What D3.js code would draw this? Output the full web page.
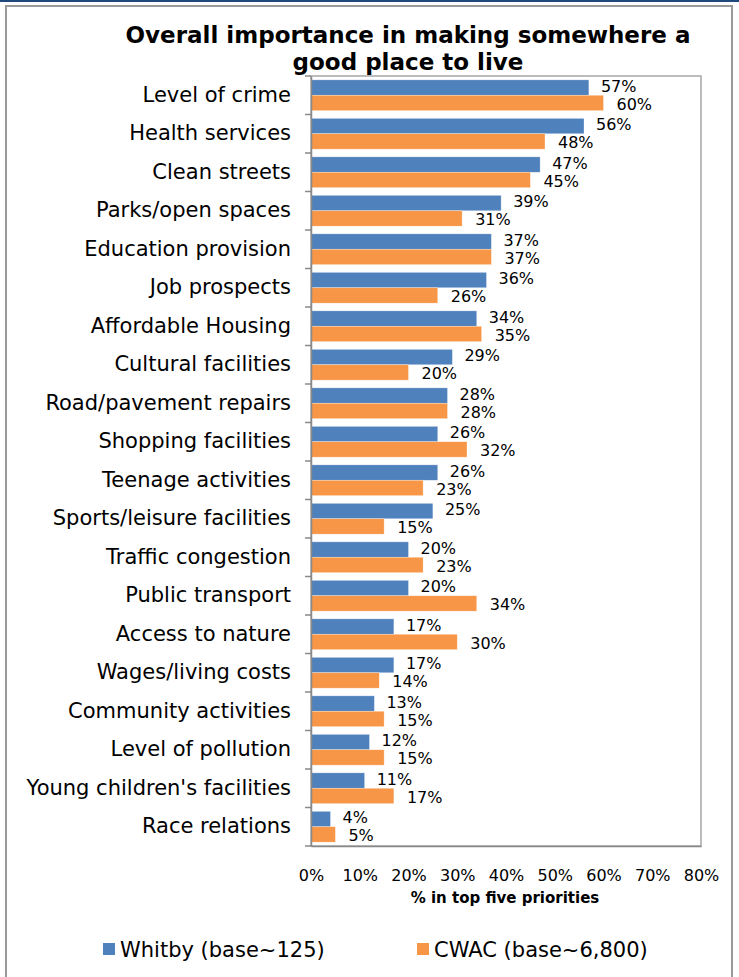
<!DOCTYPE html>
<html><head><meta charset="utf-8">
<script src="https://cdn.jsdelivr.net/npm/d3@7"></script>
<style>body{margin:0;background:#fff}svg{display:block}</style>
</head><body>
<script>
const categories = ["Level of crime","Health services","Clean streets","Parks/open spaces","Education provision","Job prospects","Affordable Housing","Cultural facilities","Road/pavement repairs","Shopping facilities","Teenage activities","Sports/leisure facilities","Traffic congestion","Public transport","Access to nature","Wages/living costs","Community activities","Level of pollution","Young children's facilities","Race relations"];
const whitby = [57,56,47,39,37,36,34,29,28,26,26,25,20,20,17,17,13,12,11,4];
const cwac =   [60,48,45,31,37,26,35,20,28,32,23,15,23,34,30,14,15,15,17,5];
const seriesNames = ["Whitby (base~125)","CWAC (base~6,800)"];
const tickValues = [0,10,20,30,40,50,60,70,80];
const titleLines = ["Overall importance in making somewhere a","good place to live"];
const axisTitle = "% in top five priorities";

(function(){
const W = 739, H = 977;
const colors = ["#4F81BD","#F79646"];
const svg = d3.select("body").append("svg").attr("width",W).attr("height",H);
const font = "DejaVu Sans, Verdana, sans-serif";

// frame
svg.append("rect").attr("x",0).attr("y",0).attr("width",W).attr("height",2).attr("fill","#1F497D");
svg.append("rect").attr("x",6).attr("y",6).attr("width",726).attr("height",H).attr("fill","none").attr("stroke","#9a9a9a").attr("stroke-width",2);

const pL = 311, pR = 701, pT = 76, pB = 846;
const x = d3.scaleLinear().domain([0,80]).range([pL,pR]);
const y = d3.scaleBand().domain(categories).range([pT,pB]).paddingInner(0.2).paddingOuter(0.1);
const sub = d3.scaleBand().domain([0,1]).range([0,y.bandwidth()]);

// title
svg.append("g").selectAll("text").data(titleLines).join("text")
  .attr("x",408).attr("y",(d,i)=>43+i*27).attr("text-anchor","middle")
  .attr("font-family",font).attr("font-weight","bold").attr("font-size",23).attr("fill","#000").text(d=>d);

// plot box
svg.append("rect").attr("x",pL).attr("y",pT).attr("width",pR-pL).attr("height",pB-pT)
  .attr("fill","none").attr("stroke","#a6a6a6").attr("stroke-width",1.5);

// bars
const series = [whitby, cwac];
series.forEach((vals,si)=>{
  const g = svg.append("g");
  g.selectAll("rect").data(categories).join("rect")
    .attr("x",x(0)).attr("y",(c)=>y(c)+sub(si))
    .attr("width",(c,i)=>x(vals[i])-x(0)).attr("height",sub.bandwidth())
    .attr("fill",colors[si]).attr("stroke","#fff").attr("stroke-opacity",0.5).attr("stroke-width",0.6);
  g.selectAll("text").data(categories).join("text")
    .attr("x",(c,i)=>x(vals[i])+12+si).attr("y",(c)=>y(c)+sub(si)+sub.bandwidth()/2 + (si===0?-1.5:1))
    .attr("dy","0.36em").attr("font-family",font).attr("font-size",16).attr("fill","#000")
    .text((c,i)=>vals[i]+"%");
});

// y axis
const yAxis = d3.axisLeft(y).tickSize(0).tickPadding(20);
const ya = svg.append("g").attr("transform",`translate(${pL},0)`).call(yAxis);
ya.select(".domain").attr("stroke","#898989").attr("stroke-width",1.5);
ya.selectAll("text").attr("font-family",font).attr("font-size",21).attr("fill","#000");
// boundary ticks
const bounds = categories.map(c=>y(c)-y.step()*y.paddingInner()/2).concat([pB]);
svg.append("g").selectAll("line").data(bounds).join("line")
  .attr("x1",pL-6).attr("x2",pL).attr("y1",d=>d).attr("y2",d=>d)
  .attr("stroke","#898989").attr("stroke-width",1.5);

// x axis
const xAxis = d3.axisBottom(x).tickValues(tickValues).tickSize(0).tickPadding(24).tickFormat(d=>d+"%");
const xa = svg.append("g").attr("transform",`translate(0,${pB})`).call(xAxis);
xa.select(".domain").attr("stroke","#898989").attr("stroke-width",1.5);
xa.selectAll("text").attr("font-family",font).attr("font-size",16).attr("fill","#000");

svg.append("text").attr("x",505).attr("y",903).attr("text-anchor","middle")
  .attr("font-family",font).attr("font-weight","bold").attr("font-size",15).text(axisTitle);

// legend
const legX = [103,417];
const lg = svg.append("g").selectAll("g").data(seriesNames).join("g")
  .attr("transform",(d,i)=>`translate(${legX[i]},943)`);
lg.append("rect").attr("width",12).attr("height",12).attr("fill",(d,i)=>colors[i]);
lg.append("text").attr("x",17).attr("y",14).attr("font-family",font).attr("font-size",21).attr("fill","#000").text(d=>d);
})();
</script>
</body></html>
